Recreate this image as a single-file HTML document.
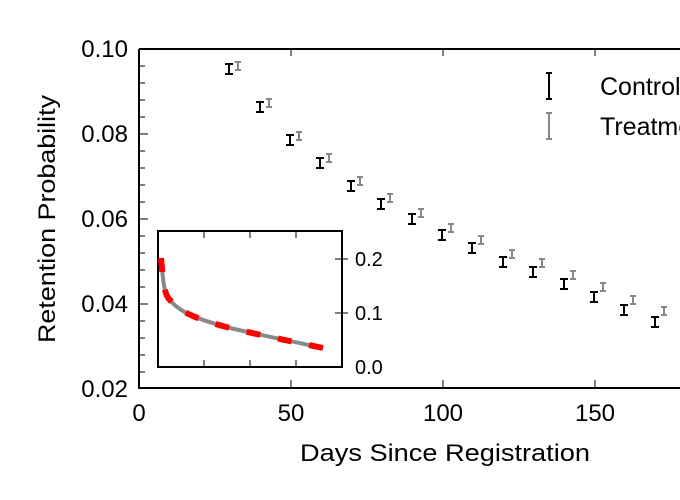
<!DOCTYPE html><html><head><style>body{margin:0;background:#fff}svg{display:block;font-family:"Liberation Sans",sans-serif}</style></head><body>
<svg width="680" height="500" xmlns="http://www.w3.org/2000/svg">
<rect width="680" height="500" fill="#fff"/>
<path d="M139 49 H680 M139 49 V388 H680" stroke="#000" stroke-width="2" fill="none"/>
<path stroke="#000" stroke-width="1" d="M140 66h5M140 83h5M140 100h5M140 117h5M140 134h8M140 151h5M140 168h5M140 185h5M140 202h5M140 219h8M140 236h5M140 253h5M140 270h5M140 287h5M140 304h8M140 321h5M140 338h5M140 355h5M140 372h5M291 50v6M443 50v6M595 50v6M291 387v-7M443 387v-7M595 387v-7"/>
<g font-size="24" fill="#000" text-anchor="end">
<text x="128" y="57">0.10</text><text x="128" y="142">0.08</text><text x="128" y="227">0.06</text><text x="128" y="312">0.04</text><text x="128" y="397">0.02</text>
</g>
<g font-size="24" fill="#000" text-anchor="middle">
<text x="139" y="421">0</text><text x="291" y="421">50</text><text x="443" y="421">100</text><text x="595" y="421">150</text>
<text x="445" y="461" textLength="290" lengthAdjust="spacingAndGlyphs">Days Since Registration</text>
<text transform="translate(55,219) rotate(-90)" textLength="248" lengthAdjust="spacingAndGlyphs">Retention Probability</text>
</g>
<path fill="none" stroke="#888" stroke-width="2" d="M238 62v8M235 62h6M235 70h6 M269 99v8M266 99h6M266 107h6 M299 132v8M296 132h6M296 140h6 M329 154v8M326 154h6M326 162h6 M360 177v8M357 177h6M357 185h6 M390 194v8M387 194h6M387 202h6 M421 209v8M418 209h6M418 217h6 M451 224v8M448 224h6M448 232h6 M481 236v8M478 236h6M478 244h6 M512 250v8M509 250h6M509 258h6 M542 259v8M539 259h6M539 267h6 M573 271v8M570 271h6M570 279h6 M603 283v8M600 283h6M600 291h6 M633 296v8M630 296h6M630 304h6 M664 307v8M661 307h6M661 315h6"/>
<path fill="none" stroke="#000" stroke-width="2" d="M229 64v10M225 64h8M225 74h8 M260 102v10M256 102h8M256 112h8 M290 135v10M286 135h8M286 145h8 M320 158v10M316 158h8M316 168h8 M351 181v10M347 181h8M347 191h8 M381 199v10M377 199h8M377 209h8 M412 214v10M408 214h8M408 224h8 M442 230v10M438 230h8M438 240h8 M472 243v10M468 243h8M468 253h8 M503 257v10M499 257h8M499 267h8 M533 267v10M529 267h8M529 277h8 M564 279v10M560 279h8M560 289h8 M594 292v10M590 292h8M590 302h8 M624 305v10M620 305h8M620 315h8 M655 317v10M651 317h8M651 327h8"/>
<g stroke-width="2" fill="none">
<path d="M549 73V99M546 73H552M546 99H552" stroke="#000"/>
<path d="M549 113V139M546 113H552M546 139H552" stroke="#888"/>
</g>
<g font-size="25" fill="#000"><text x="600" y="95">Control</text><text x="600" y="135">Treatment</text></g>
<rect x="158" y="231" width="184" height="136" fill="#fff" stroke="#000" stroke-width="2"/>
<path stroke="#000" stroke-width="1" d="M204 232v6M250 232v6M296 232v6M204 366v-6M250 366v-6M296 366v-6M341 259h-6M341 313h-6M342 259h6M342 313h6"/>
<g font-size="20" fill="#000"><text x="355" y="266">0.2</text><text x="355" y="320">0.1</text><text x="355" y="374">0.0</text></g>
<path d="M161 258 C163 280,164 295,170 300 C180 313,200 320,230 328 C260 335,290 341,323 348" stroke="#888" stroke-width="4" fill="none"/>
<path d="M161 258 C163 280,164 295,170 300 C180 313,200 320,230 328 C260 335,290 341,323 348" stroke="#f00" stroke-width="6" fill="none" stroke-dasharray="14,18"/>
</svg></body></html>
